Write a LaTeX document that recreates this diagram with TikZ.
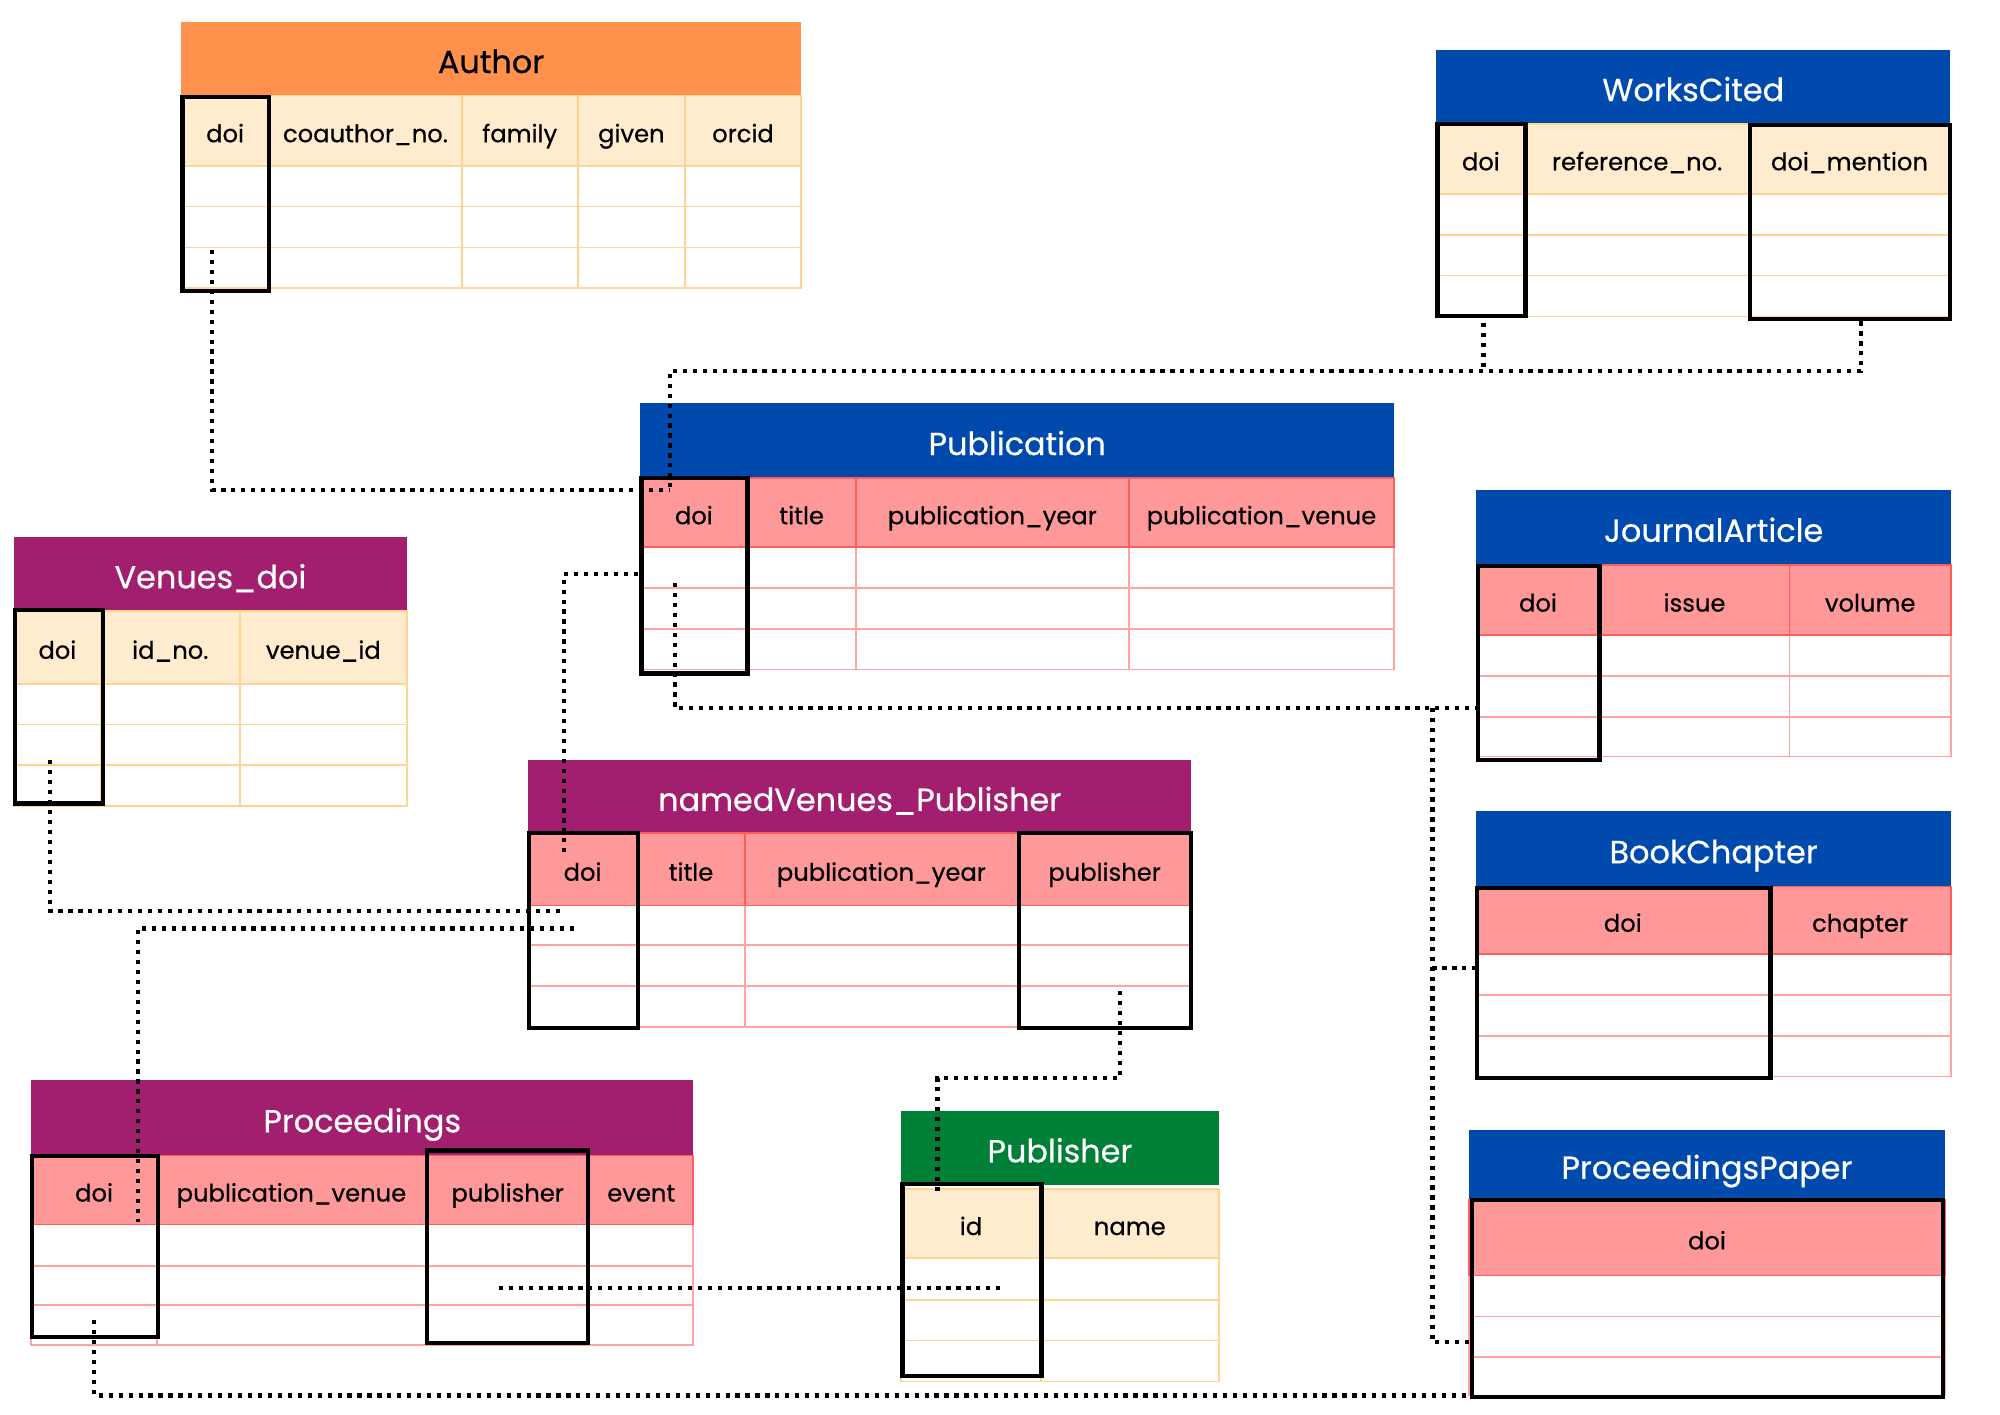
\documentclass[tikz,border=0pt]{standalone}
\usepackage{fontspec}
\setmainfont{Poppins}[RawFeature={embolden=0.5}]
\usetikzlibrary{fit}
\definecolor{orangeT}{HTML}{FF914D}
\definecolor{blueT}{HTML}{004AAD}
\definecolor{purpleT}{HTML}{A11F6E}
\definecolor{greenT}{HTML}{007F37}
\definecolor{peachF}{HTML}{FFEBCD}
\definecolor{peachL}{HTML}{FFD591}
\definecolor{pinkF}{HTML}{FF9999}
\definecolor{redL}{HTML}{FF5C5C}
\definecolor{pinkL}{HTML}{FFA3A3}
\tikzset{
  cellarea/.style={inner sep=0pt},
  celltext/.style={inner sep=0pt, text height=18pt, text depth=0pt, font=\fontsize{19}{22}\selectfont},
  titletext/.style={inner sep=0pt, text height=22.5pt, text depth=0pt, font=\fontsize{25}{30}\selectfont},
  keybox/.style={draw=black, line width=3.3pt, inner sep=0pt},
  conn/.style={draw=black, line width=3.3pt, dash pattern=on 3.3pt off 4.5pt},
  peachfill/.style={fill=peachF},
  peachrow/.style={draw=peachL, line width=1.3pt},
  peachhdr/.style={draw=peachL, line width=1.3pt},
  pinkfill/.style={fill=pinkF},
  pinkrow/.style={draw=pinkL, line width=1.3pt},
  pinkhdr/.style={draw=redL, line width=1.3pt},
}
% title band: name, x1, y1, x2, y2, fill, text colour, text
\newcommand\titleband[8]{%
  \node[cellarea, fit={(#2,#3) (#4,#5)}, fill=#6] (#1) {};
  \node[titletext, text=#7] (#1-label) at (#1.center) {#8};}
% grid: scheme, x1, x2, header top, header bottom, inner columns, inner rows, bottom
\newcommand\colgrid[8]{%
  \path[#1fill] (#2,#4) rectangle (#3,#5);
  \foreach \yy in {#7} {\draw[#1row] (#2,\yy) -- (#3,\yy);}
  \foreach \xx in {#6} {\draw[#1row] (\xx,#5) -- (\xx,#8);}
  \draw[#1row] (#2,#5) rectangle (#3,#8);
  \draw[#1hdr] (#2,#4) rectangle (#3,#5);
  \foreach \xx in {#6} {\draw[#1hdr] (\xx,#4) -- (\xx,#5);}
}
\newcommand\cell[6]{%
  \node[cellarea, fit={(#2,#3) (#4,#5)}] (#1) {};
  \node[celltext] (#1-label) at (#1.center) {#6};}
\newcommand\keycol[5]{\node[keybox, fit={(#2,#3) (#4,#5)}] (#1) {};}
\begin{document}
\begin{tikzpicture}[x=1pt,y=-1pt]
\useasboundingbox (0,0) rectangle (1568,1109);
\fill[white] (0,0) rectangle (1568,1109);

% ---------- Author ----------
\titleband{author}{142}{17}{628}{75}{orangeT}{black}{Author}
\colgrid{peach}{142}{628}{75}{130}{211,362,453,537}{162,194}{226}
\cell{author-doi}{142}{75}{211}{130}{doi}
\cell{author-coauthor}{211}{75}{362}{130}{coauthor\_no.}
\cell{author-family}{362}{75}{453}{130}{family}
\cell{author-given}{453}{75}{537}{130}{given}
\cell{author-orcid}{537}{75}{628}{130}{orcid}
\keycol{author-key}{143}{76}{211}{228}

% ---------- WorksCited ----------
\titleband{wc}{1126}{39}{1529}{97}{blueT}{white}{WorksCited}
\colgrid{peach}{1126}{1529}{97}{152}{1196,1371}{184,216}{248}
\cell{wc-doi}{1126}{97}{1196}{152}{doi}
\cell{wc-ref}{1196}{97}{1371}{152}{reference\_no.}
\cell{wc-mention}{1371}{97}{1529}{152}{doi\_mention}
\keycol{wc-doikey}{1127}{97}{1196}{248}
\keycol{wc-mentionkey}{1372}{98}{1529}{250}

% ---------- Publication ----------
\titleband{pub}{502}{316}{1093}{375}{blueT}{white}{Publication}
\colgrid{pink}{502}{1093}{375}{429}{586,671,885}{461,493}{525}
\cell{pub-doi}{502}{375}{586}{429}{doi}
\cell{pub-title}{586}{375}{671}{429}{title}
\cell{pub-year}{671}{375}{885}{429}{publication\_year}
\cell{pub-venue}{885}{375}{1093}{429}{publication\_venue}
\keycol{pub-key}{503}{375}{586}{528}

% ---------- JournalArticle ----------
\titleband{ja}{1157.5}{384}{1529.5}{443}{blueT}{white}{JournalArticle}
\colgrid{pink}{1157.5}{1529.5}{443}{498}{1254,1403}{530,562}{593}
\cell{ja-doi}{1157.5}{443}{1254}{498}{doi}
\cell{ja-issue}{1254}{443}{1403}{498}{issue}
\cell{ja-volume}{1403}{443}{1529.5}{498}{volume}
\keycol{ja-key}{1159}{444}{1254}{596}

% ---------- BookChapter ----------
\titleband{bc}{1157.5}{636}{1529.5}{695}{blueT}{white}{BookChapter}
\colgrid{pink}{1157.5}{1529.5}{695}{748}{1387}{780,812}{844}
\cell{bc-doi}{1157.5}{695}{1387}{748}{doi}
\cell{bc-chapter}{1387}{695}{1529.5}{748}{chapter}
\keycol{bc-key}{1158}{696}{1388}{845}

% ---------- ProceedingsPaper ----------
\titleband{pp}{1151.5}{886}{1525}{940}{blueT}{white}{ProceedingsPaper}
\colgrid{pink}{1151.5}{1525}{941}{1000}{1525}{1032,1064}{1094}
\cell{pp-doi}{1151.5}{941}{1525}{1000}{doi}
\keycol{pp-key}{1154}{941}{1523}{1095}

% ---------- Venues_doi ----------
\titleband{vd}{11}{421}{319}{479}{purpleT}{white}{Venues\_doi}
\colgrid{peach}{11}{319}{479}{536}{79,188}{568,600}{632}
\cell{vd-doi}{11}{479}{79}{536}{doi}
\cell{vd-idno}{79}{479}{188}{536}{id\_no.}
\cell{vd-venue}{188}{479}{319}{536}{venue\_id}
\keycol{vd-key}{12}{478}{81}{630}

% ---------- namedVenues_Publisher ----------
\titleband{nv}{414}{596}{934}{653}{purpleT}{white}{namedVenues\_Publisher}
\colgrid{pink}{414}{934}{653}{710}{499.5,584,798}{741,773}{805}
\cell{nv-doi}{414}{653}{499.5}{710}{doi}
\cell{nv-title}{499.5}{653}{584}{710}{title}
\cell{nv-year}{584}{653}{798}{710}{publication\_year}
\cell{nv-publisher}{798}{653}{934}{710}{publisher}
\keycol{nv-doikey}{415}{653}{500}{806}
\keycol{nv-pubkey}{799}{653}{934}{806}

% ---------- Proceedings ----------
\titleband{pr}{24.5}{847}{543.5}{906}{purpleT}{white}{Proceedings}
\colgrid{pink}{24.5}{543.5}{906}{960}{123,334,462}{992.5,1023}{1054.5}
\cell{pr-doi}{24.5}{906}{123}{960}{doi}
\cell{pr-venue}{123}{906}{334}{960}{publication\_venue}
\cell{pr-publisher}{334}{906}{462}{960}{publisher}
\cell{pr-event}{462}{906}{543.5}{960}{event}
\keycol{pr-doikey}{25}{906}{124}{1048.5}
\keycol{pr-pubkey}{335}{902}{461}{1053}

% ---------- Publisher ----------
\titleband{pb}{706.5}{871}{955.5}{929}{greenT}{white}{Publisher}
\colgrid{peach}{706.5}{955.5}{932}{986.5}{816}{1019,1051}{1083}
\cell{pb-id}{706.5}{932}{816}{986.5}{id}
\cell{pb-name}{816}{932}{955.5}{986.5}{name}
\keycol{pb-key}{707.5}{928}{816.5}{1079}

% ---------- connector end points ----------
\coordinate (c-author) at (166.5,196);
\coordinate (c-pubtop) at (525,384);
\coordinate (c-wcdoi) at (1163,253);
\coordinate (c-wcmention) at (1459,252);
\coordinate (c-wcjoin) at (1163,291);
\coordinate (c-publeft) at (500,450);
\coordinate (c-nvtop) at (442,668);
\coordinate (c-pubdown) at (529,457);
\coordinate (c-ja) at (1157,555);
\coordinate (c-split) at (1123,555);
\coordinate (c-bcsplit) at (1123,759);
\coordinate (c-bc) at (1157,759);
\coordinate (c-pp) at (1153,1052);
\coordinate (c-vd) at (39,596);
\coordinate (c-nvleft1) at (439,714);
\coordinate (c-nvleft2) at (450,728);
\coordinate (c-prtop) at (108,958);
\coordinate (c-nvpub) at (878,777);
\coordinate (c-nvmid) at (735,845);
\coordinate (c-pbtop) at (735,938);
\coordinate (c-prpub) at (391,1010);
\coordinate (c-pbid) at (784,1010);
\coordinate (c-prdoi) at (74,1035);
\coordinate (c-ppbottom) at (1153,1094);

% ---------- connectors ----------
\draw[conn] (c-author) |- (c-pubtop);
\draw[conn] (c-wcdoi) -- (c-wcjoin);
\draw[conn] (c-wcmention) -- (c-wcmention |- c-wcjoin) -| (c-pubtop);
\draw[conn] (c-publeft) -| (c-nvtop);
\draw[conn] (c-pubdown) |- (c-ja);
\draw[conn] (c-split) |- (c-pp);
\draw[conn] (c-bcsplit) -- (c-bc);
\draw[conn] (c-vd) |- (c-nvleft1);
\draw[conn] (c-nvleft2) -| (c-prtop);
\draw[conn] (c-nvpub) |- (c-nvmid) -- (c-pbtop);
\draw[conn] (c-prpub) -- (c-pbid);
\draw[conn] (c-prdoi) |- (c-ppbottom);
\end{tikzpicture}
\end{document}
